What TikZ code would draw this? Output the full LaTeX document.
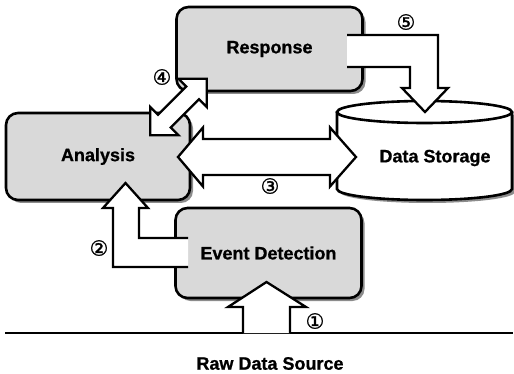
\documentclass[tikz,border=0pt]{standalone}
\usepackage{fontspec}
\setmainfont{Liberation Sans}[BoldFeatures={FakeBold=0.8}]
\newfontfamily\symfont{DejaVu Sans}[FakeBold=1.2]
\usetikzlibrary{shadows}
\definecolor{boxgray}{gray}{0.85}
\definecolor{shadowgray}{gray}{0.55}
\tikzset{
  box/.style={draw, line width=2.6pt, rounded corners=12pt, fill=boxgray,
    drop shadow={shadow xshift=3pt, shadow yshift=-3pt, fill=shadowgray, opacity=1},
    font=\fontsize{18}{20}\selectfont\bfseries, inner sep=0pt},
  lbl/.style={font=\fontsize{18}{20}\selectfont\bfseries, inner sep=0pt},
  num/.style={font=\symfont\fontsize{21}{21}\selectfont, inner sep=0pt},
  blockarrow/.style={draw, line width=2.3pt, fill=white, miter limit=10},
  blockline/.style={line width=2.3pt, miter limit=10},
}
\begin{document}
\begin{tikzpicture}[x=1pt,y=-1pt]
\useasboundingbox (0,0) rectangle (514,374);

% boxes
\node[box, minimum width=186pt, minimum height=84pt] (resp) at (269.5,49) {Response};
\node[box, minimum width=184pt, minimum height=87pt] (anal) at (98,156.5) {Analysis};
\node[box, minimum width=186pt, minimum height=90pt] (event) at (268.5,253) {Event Detection};

% data storage cylinder
\fill[shadowgray] (340,115) -- (340,192) arc[start angle=180, end angle=0, x radius=87.5, y radius=11] -- (515,115) -- cycle;
\fill[white] (337,112) -- (337,189) arc[start angle=180, end angle=0, x radius=87.5, y radius=11] -- (512,112) -- cycle;
\draw[line width=2.6pt] (337,112) -- (337,189) arc[start angle=180, end angle=0, x radius=87.5, y radius=11] -- (512,112);
\draw[line width=2.6pt, fill=white] (424.5,112) ellipse[x radius=87.5, y radius=11];
\node[lbl] (store) at (435,158) {Data Storage};
\coordinate (storetop) at (424.5,112);

% ground line
\coordinate (gl) at (5,333);
\coordinate (gr) at (513,333);
\draw[line width=2.6pt] (gl) -- (gr);
\node[lbl] (raw) at (270,363.5) {Raw Data Source};

% arrow 1: raw data -> event detection
\fill[white] (243,333) -- (243,307) -- (228,307) -- (266.5,282) -- (306,307) -- (290,307) -- (290,333) -- cycle;
\draw[blockline] (243,333) -- (243,307) -- (228,307) -- (266.5,282) -- (306,307) -- (290,307) -- (290,333);

% arrow 2: event detection -> analysis
\fill[white] (188,238) -- (139,238) -- (139,208) -- (148,208) -- (125.5,183) -- (103,208) -- (113,208) -- (113,267) -- (188,267) -- cycle;
\draw[blockline] (188,238) -- (139,238) -- (139,208) -- (148,208) -- (125.5,183) -- (103,208) -- (113,208) -- (113,267) -- (188,267);

% arrow 3: analysis <-> data storage
\draw[blockarrow] (178,157) -- (203,127.5) -- (203,139) -- (330,139) -- (330,127.5) -- (356,157) -- (330,186.5) -- (330,175) -- (203,175) -- (203,186.5) -- cycle;

% arrow 4: analysis <-> response
\draw[blockarrow] (206.8,78.7) -- (206.8,107.1) -- (199.0,99.3) -- (170.8,127.5) -- (178.5,135.3) -- (150.2,135.3) -- (150.2,106.9) -- (158.0,114.7) -- (186.2,86.5) -- (178.5,78.7) -- cycle;

% arrow 5: response -> data storage
\fill[white] (347,35) -- (438,35) -- (438,88) -- (448,88) -- (425,112) -- (402,88) -- (410,88) -- (410,67) -- (347,67) -- cycle;
\draw[blockline] (347,35) -- (438,35) -- (438,88) -- (448,88) -- (425,112) -- (402,88) -- (410,88) -- (410,67) -- (347,67);

% numbers
\node[num] (n1) at (315,321) {①};
\node[num] (n2) at (99,248) {②};
\node[num] (n3) at (270,186) {③};
\node[num] (n4) at (162,77) {④};
\node[num] (n5) at (406,22) {⑤};
\end{tikzpicture}
\end{document}
